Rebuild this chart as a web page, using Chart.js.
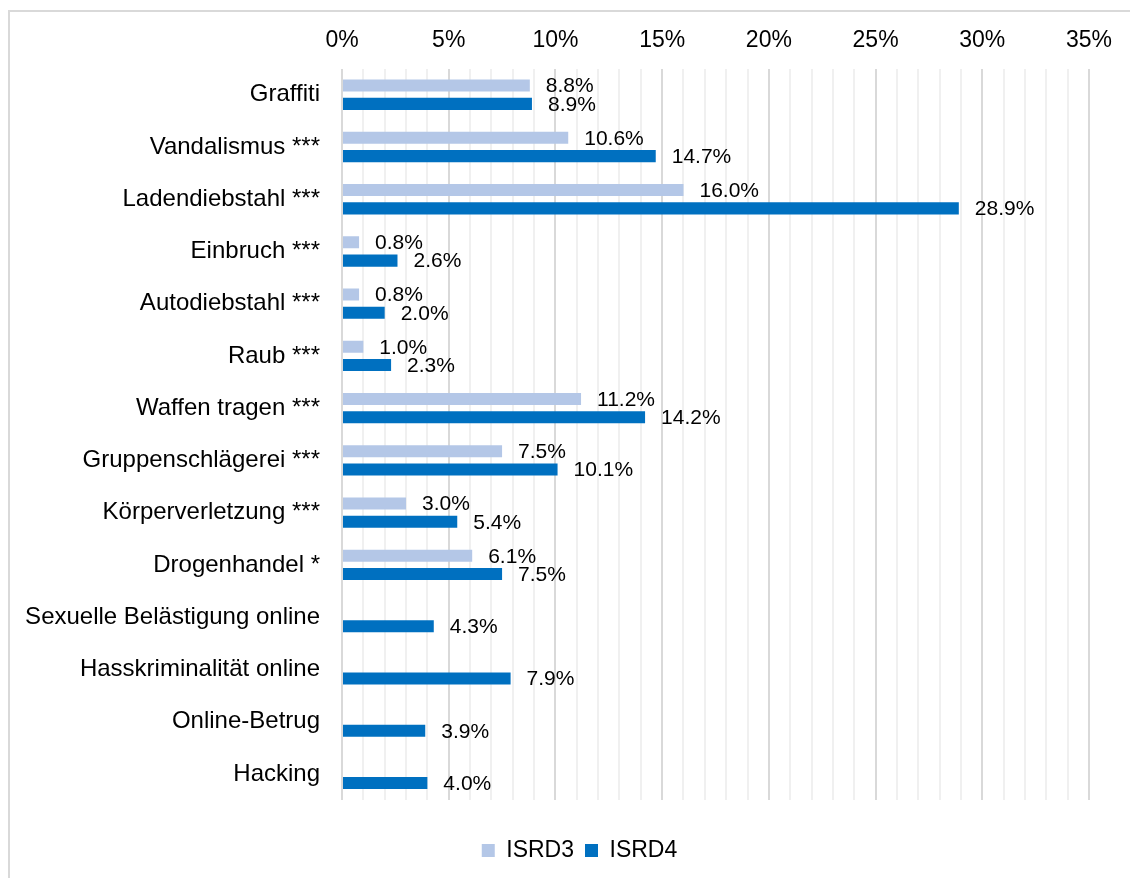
<!DOCTYPE html>
<html>
<head>
<meta charset="utf-8">
<script src="https://cdn.jsdelivr.net/npm/chart.js@4"></script>
<style>
  body { margin: 0; background: #fff; }
  canvas { display: block; }
</style>
</head>
<body>
<canvas id="chart-delikte" width="1130" height="878"></canvas>
<script>
const categories = [
  'Graffiti',
  'Vandalismus ***',
  'Ladendiebstahl ***',
  'Einbruch ***',
  'Autodiebstahl ***',
  'Raub ***',
  'Waffen tragen ***',
  'Gruppenschlägerei ***',
  'Körperverletzung ***',
  'Drogenhandel *',
  'Sexuelle Belästigung online',
  'Hasskriminalität online',
  'Online-Betrug',
  'Hacking'
];
const isrd3 = [8.8, 10.6, 16.0, 0.8, 0.8, 1.0, 11.2, 7.5, 3.0, 6.1, null, null, null, null];
const isrd4 = [8.9, 14.7, 28.9, 2.6, 2.0, 2.3, 14.2, 10.1, 5.4, 7.5, 4.3, 7.9, 3.9, 4.0];
const seriesNames = ['ISRD3', 'ISRD4'];
const axisMin = 0;
const axisMax = 35;
const majorStep = 5;

const fontFamily = '"Liberation Sans", Arial, sans-serif';

// rahmen wie im excel-export (rechts und unten abgeschnitten)
const framePlugin = {
  id: 'frame',
  beforeDraw(chart) {
    const ctx = chart.ctx;
    ctx.save();
    ctx.strokeStyle = '#D9D9D9';
    ctx.lineWidth = 2;
    ctx.strokeRect(9, 11, chart.width + 20, chart.height + 20);
    ctx.restore();
  }
};

// legende sitzt im original etwas rechts der mitte
const legendShift = {
  id: 'legendShift',
  afterLayout(chart) {
    if (chart.legend) chart.legend.left += 60;
  }
};

// prozentwerte rechts neben den balken
const valueLabels = {
  id: 'valueLabels',
  afterDatasetsDraw(chart) {
    const ctx = chart.ctx;
    ctx.save();
    ctx.font = '21px ' + fontFamily;
    ctx.fillStyle = '#000';
    ctx.textAlign = 'left';
    ctx.textBaseline = 'middle';
    chart.data.datasets.forEach(function(ds, i) {
      const meta = chart.getDatasetMeta(i);
      meta.data.forEach(function(bar, j) {
        const v = ds.data[j];
        if (v === null || v === undefined) return;
        ctx.fillText(v.toFixed(1) + '%', bar.x + 16, bar.y + 1);
      });
    });
    ctx.restore();
  }
};

const data = {
  labels: categories,
  datasets: [
    {
      label: seriesNames[0],
      data: isrd3,
      backgroundColor: '#B4C7E7',
      barPercentage: 0.66,
      categoryPercentage: 0.70
    },
    {
      label: seriesNames[1],
      data: isrd4,
      backgroundColor: '#0070C0',
      barPercentage: 0.66,
      categoryPercentage: 0.70
    }
  ]
};

new Chart(document.getElementById('chart-delikte'), {
  type: 'bar',
  data: data,
  plugins: [framePlugin, legendShift, valueLabels],
  options: {
    responsive: false,
    animation: false,
    indexAxis: 'y',
    layout: {
      padding: { top: 13, left: 10, right: 41, bottom: 6 }
    },
    scales: {
      x: {
        type: 'linear',
        position: 'top',
        min: axisMin,
        max: axisMax,
        border: { display: false },
        grid: {
          drawTicks: false,
          lineWidth: 2,
          color: function(c) {
            return c.tick && c.tick.value % majorStep === 0 ? '#D9D9D9' : '#F0F0F0';
          }
        },
        ticks: {
          stepSize: 1,
          autoSkip: false,
          maxRotation: 0,
          padding: 14,
          color: '#000',
          font: { family: fontFamily, size: 23 },
          callback: function(v) {
            return v % majorStep === 0 ? v + '%' : '';
          }
        }
      },
      y: {
        border: { display: false },
        grid: { display: false, drawTicks: false },
        ticks: {
          autoSkip: false,
          padding: 22,
          color: '#000',
          font: { family: fontFamily, size: 24 }
        },
        afterFit: function(scale) {
          scale.width = 332;
        }
      }
    },
    plugins: {
      tooltip: { enabled: false },
      legend: {
        position: 'bottom',
        title: {
          display: true,
          text: '',
          font: { size: 10, lineHeight: 1 },
          padding: { top: 18, bottom: 0 }
        },
        labels: {
          boxWidth: 13,
          boxHeight: 13,
          padding: 11,
          color: '#000',
          font: { family: fontFamily, size: 23 }
        }
      }
    }
  }
});
</script>
</body>
</html>
